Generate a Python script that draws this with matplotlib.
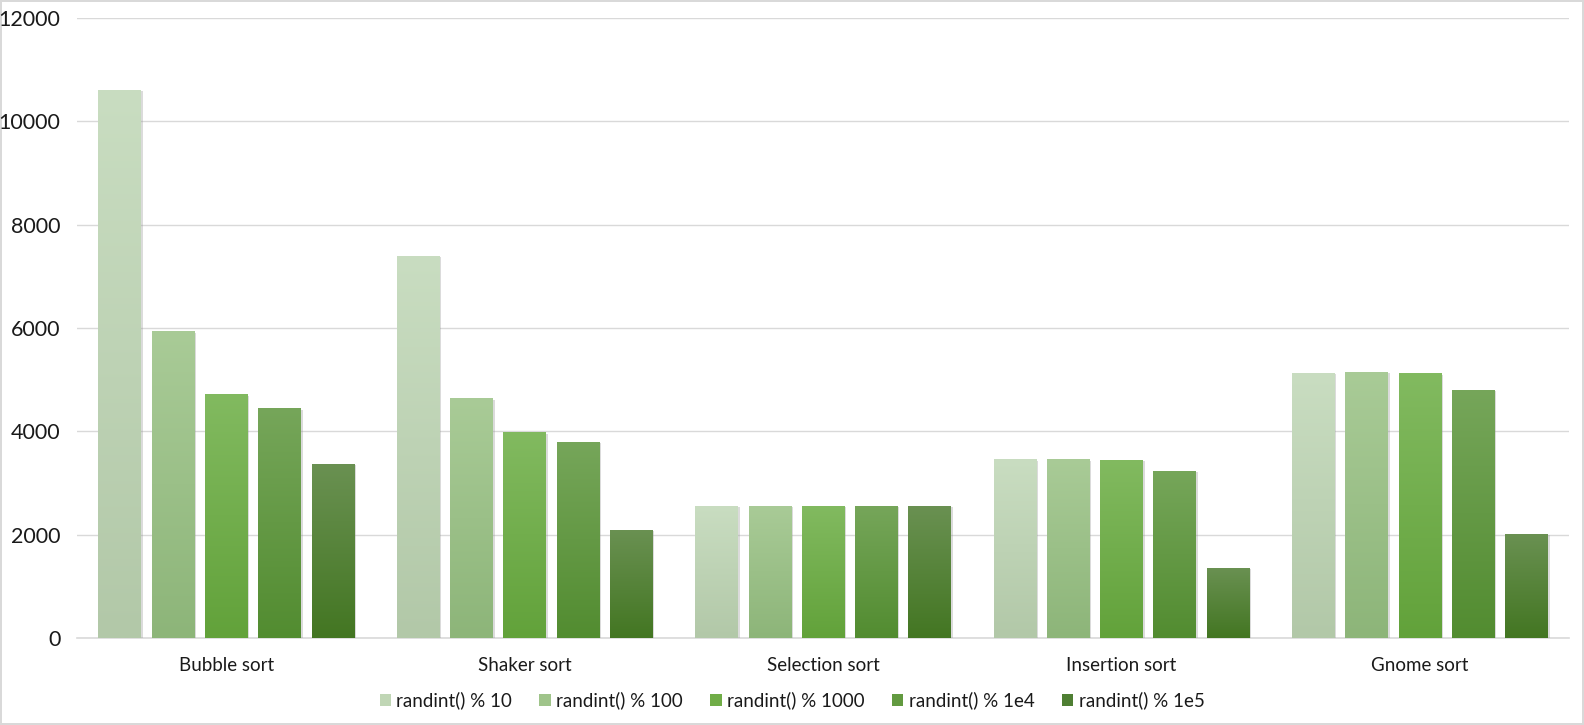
import numpy as np
import matplotlib
matplotlib.use("Agg")
import matplotlib.pyplot as plt
import matplotlib.patheffects as pe
from matplotlib.patches import Patch

# data
categories = ["Bubble sort", "Shaker sort", "Selection sort", "Insertion sort", "Gnome sort"]
series_names = ["randint() % 10", "randint() % 100", "randint() % 1000", "randint() % 1e4", "randint() % 1e5"]
mod_10 = [10610, 7395, 2560, 3465, 5140]
mod_100 = [5940, 4640, 2560, 3465, 5155]
mod_1000 = [4720, 3985, 2560, 3450, 5125]
mod_1e4 = [4450, 3795, 2560, 3235, 4805]
mod_1e5 = [3380, 2095, 2560, 1360, 2025]
yticks = [0, 2000, 4000, 6000, 8000, 10000, 12000]

# gradient colours (top, bottom) per series
top_colors = ["#c9ddc1", "#a9cb97", "#82ba60", "#76a65a", "#6a9152"]
bottom_colors = ["#b2c8a8", "#8db579", "#62a23a", "#528c30", "#437622"]
legend_colors = ["#c0d6b5", "#9fc48a", "#70ad47", "#629a40", "#4f7f33"]

series = [mod_10, mod_100, mod_1000, mod_1e4, mod_1e5]

plt.rcParams["font.family"] = ["Lato", "DejaVu Sans"]

fig = plt.figure(figsize=(15.84, 7.25), dpi=100)
fig.patch.set_edgecolor("#d9d9d9")
fig.patch.set_linewidth(1.5)
ax = fig.add_axes([0.0486, 0.1196, 0.9419, 0.8557])

x = np.arange(len(categories))
width = 0.1418
pitch = 0.1786


def gradient(c1, c2):
    a = np.array(matplotlib.colors.to_rgb(c1))
    b = np.array(matplotlib.colors.to_rgb(c2))
    t = np.linspace(0, 1, 256)[:, None]
    return (a * (1 - t) + b * t)[:, None, :]


for i, vals in enumerate(series):
    xs = x + (i - 2) * pitch
    bars = ax.bar(xs, vals, width, color=legend_colors[i], zorder=3,
                  path_effects=[pe.SimplePatchShadow(offset=(1.5, -1), shadow_rgbFace="#999999", alpha=0.35),
                                pe.Normal()])
    img = gradient(top_colors[i], bottom_colors[i])
    for b in bars:
        x0, y0 = b.get_x(), b.get_y()
        im = ax.imshow(img, extent=[x0, x0 + b.get_width(), y0, y0 + b.get_height()],
                       aspect="auto", zorder=4, interpolation="bilinear", origin="upper")
        im.set_clip_path(b)

ax.set_xlim(-0.5, 4.5)
ax.set_ylim(0, 12000)
ax.set_yticks(yticks)
ax.set_yticklabels([str(v) for v in yticks])
ax.set_xticks(x)
ax.set_xticklabels(categories)
ax.tick_params(axis="y", length=0, pad=12, labelsize=15.5, labelcolor="#1a1a1a")
ax.tick_params(axis="x", length=0, pad=13.5, labelsize=13.5, labelcolor="#1a1a1a")
ax.grid(axis="y", color="#d9d9d9", linewidth=1, zorder=0)
ax.set_axisbelow(True)
for s in ["top", "right", "left"]:
    ax.spines[s].set_visible(False)
ax.spines["bottom"].set_color("#d9d9d9")
ax.spines["bottom"].set_linewidth(1.2)

handles = [Patch(facecolor=c, edgecolor="none") for c in legend_colors]
fig.legend(handles, series_names, loc="center", bbox_to_anchor=(0.5, 0.034), ncol=5,
           frameon=False, fontsize=13.5, handlelength=0.6, handleheight=0.6,
           handletextpad=0.3, columnspacing=1.45, labelcolor="#1a1a1a")

plt.savefig("out.png", dpi=100)
